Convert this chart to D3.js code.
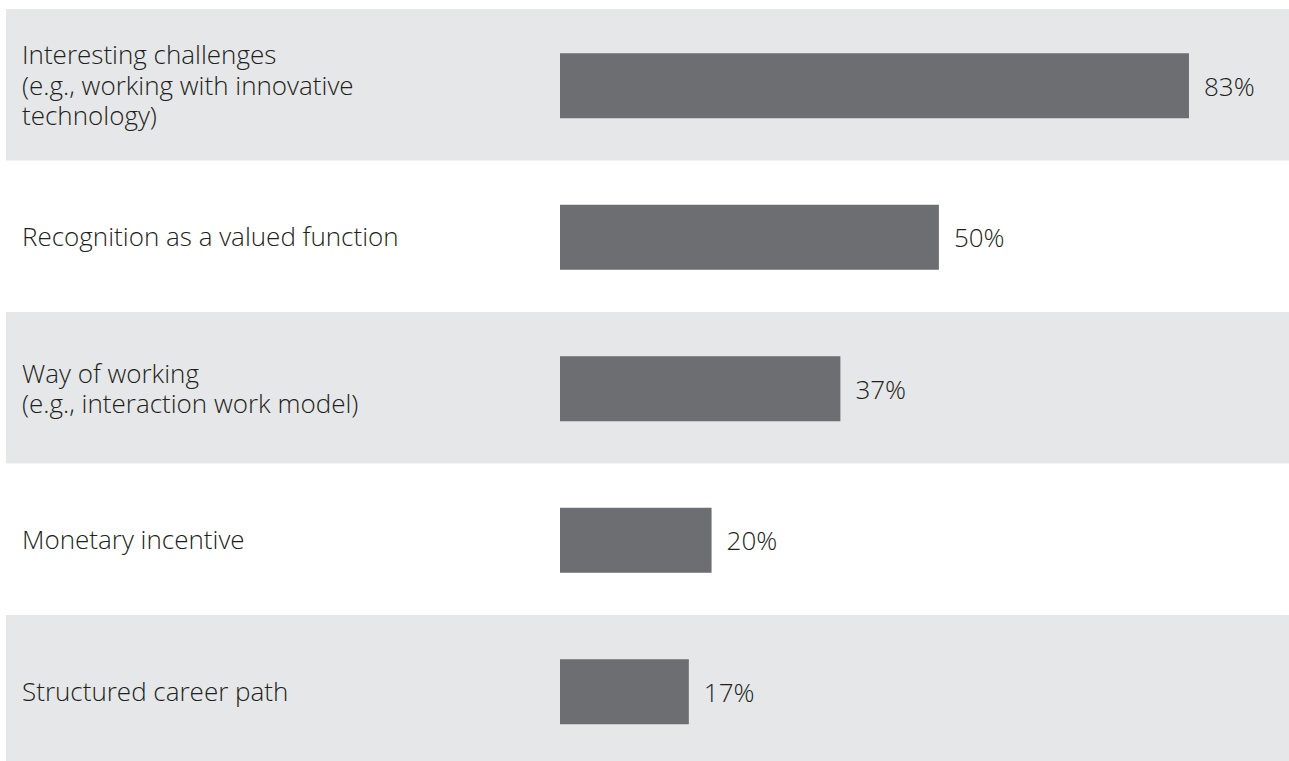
<!DOCTYPE html>
<html>
<head>
<meta charset="utf-8">
<script src="https://cdn.jsdelivr.net/npm/d3@7"></script>
<style>
  html, body { margin: 0; padding: 0; background: #ffffff; }
  svg { display: block; }
  text { font-family: "Open Sans", "Noto Sans", sans-serif; font-weight: 300; fill: #231f20; }
</style>
</head>
<body>
<svg id="chart" width="1289" height="761"></svg>
<script>
// Survey categories (multi-line labels split on "\n")
const categories = [
  "Interesting challenges\n(e.g., working with innovative\ntechnology)",
  "Recognition as a valued function",
  "Way of working\n(e.g., interaction work model)",
  "Monetary incentive",
  "Structured career path"
];
// Share of respondents, in percent
const values = [83, 50, 37, 20, 17];
// Value label text
const valueLabels = ["83%", "50%", "37%", "20%", "17%"];

const svg = d3.select("#chart");
const W = 1289, H = 761;

const rowTop = 9, rowH = 151.5;
const y = d3.scaleBand()
  .domain(d3.range(categories.length))
  .range([rowTop, rowTop + rowH * categories.length])
  .paddingInner(0).paddingOuter(0);

const x = d3.scaleLinear().domain([0, 100]).range([560, 560 + 757.8]);
const barH = 65;
const fontSize = 26;

const rows = svg.selectAll("g.row")
  .data(categories)
  .join("g")
  .attr("class", "row")
  .attr("transform", (d, i) => `translate(0,${y(i)})`);

// Alternating light-grey bands
rows.filter((d, i) => i % 2 === 0)
  .append("rect")
  .attr("x", 6)
  .attr("y", 0)
  .attr("width", W - 6)
  .attr("height", y.bandwidth())
  .attr("fill", "#e6e7e8");

const cy = y.bandwidth() / 2;

// Bars
rows.append("rect")
  .attr("x", x(0))
  .attr("y", cy - barH / 2 + 1)
  .attr("width", (d, i) => x(values[i]) - x(0))
  .attr("height", barH)
  .attr("fill", "#6d6e71");

// Category labels
const lineH = 30.5;
rows.append("text")
  .attr("font-size", fontSize)
  .each(function(d) {
    const lines = d.split("\n");
    const first = cy + 10 - (lines.length - 1) * lineH / 2;
    d3.select(this).selectAll("tspan")
      .data(lines)
      .join("tspan")
      .attr("x", 22)
      .attr("y", (l, j) => first + j * lineH)
      .text(l => l);
  });

// Value labels
rows.append("text")
  .attr("x", (d, i) => x(values[i]) + 15)
  .attr("y", cy + 11)
  .attr("font-size", fontSize)
  .text((d, i) => valueLabels[i]);
</script>
</body>
</html>
